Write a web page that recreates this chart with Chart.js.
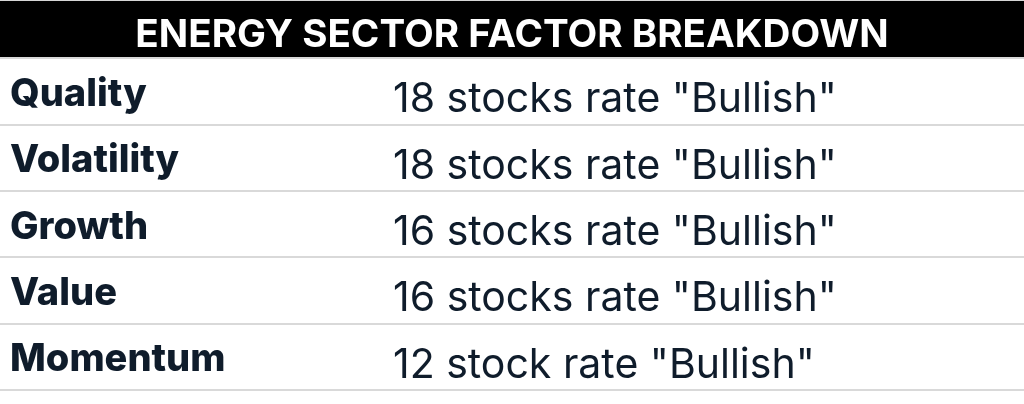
<!DOCTYPE html>
<html>
<head>
<meta charset="utf-8">
<title>Energy Sector Factor Breakdown</title>
<script src="https://cdn.jsdelivr.net/npm/chart.js@4/dist/chart.umd.min.js"></script>
<style>
  html, body { margin: 0; padding: 0; background: #fff; }
  .chart-box { position: relative; width: 1024px; height: 404px; }
</style>
</head>
<body>
<div class="chart-box"><canvas id="factorChart"></canvas></div>
<script>
const title = 'ENERGY SECTOR FACTOR BREAKDOWN';
const factors = ['Quality', 'Volatility', 'Growth', 'Value', 'Momentum'];
const bullishCounts = [18, 18, 16, 16, 12];
const ratingText = [
  'stocks rate "Bullish"',
  'stocks rate "Bullish"',
  'stocks rate "Bullish"',
  'stocks rate "Bullish"',
  'stock rate "Bullish"'
];

const ink = '#0f1c2b';
const fontFamily = 'Inter, "Noto Sans", sans-serif';

// black bar behind the title
const headerBar = {
  id: 'headerBar',
  beforeDraw(chart) {
    const ctx = chart.ctx;
    ctx.save();
    ctx.fillStyle = '#d6d6d6';
    ctx.fillRect(0, 0, chart.width, 1);
    ctx.fillStyle = '#000';
    ctx.fillRect(0, 1, chart.width, chart.chartArea.top - 1.5);
    ctx.restore();
  }
};

// second column: "N stocks rate ..."
const ratingColumn = {
  id: 'ratingColumn',
  afterDatasetsDraw(chart) {
    const ctx = chart.ctx;
    const yScale = chart.scales.y;
    ctx.save();
    ctx.font = '400 41px ' + fontFamily;
    ctx.fillStyle = ink;
    ctx.textAlign = 'left';
    ctx.textBaseline = 'alphabetic';
    bullishCounts.forEach((n, i) => {
      const y = yScale.getPixelForValue(i);
      ctx.fillText(n + ' ' + ratingText[i], 393, y + 21);
    });
    ctx.restore();
  }
};

new Chart(document.getElementById('factorChart'), {
  type: 'bar',
  data: {
    labels: factors,
    datasets: [{
      data: bullishCounts,
      backgroundColor: 'rgba(0,0,0,0)',
      borderWidth: 0
    }]
  },
  options: {
    indexAxis: 'y',
    responsive: true,
    maintainAspectRatio: false,
    animation: false,
    layout: { padding: { left: 0, right: 0, top: 0, bottom: 14 } },
    plugins: {
      legend: { display: false },
      tooltip: { enabled: false },
      title: {
        display: true,
        text: title,
        color: '#fff',
        font: { family: fontFamily, size: 38.6, weight: 'bold' },
        padding: { top: 12, bottom: 0 }
      }
    },
    scales: {
      x: { display: false, min: 0, max: 20 },
      y: {
        afterFit(scale) {
          scale.width = 0;
          scale.paddingTop = 0;
          scale.paddingBottom = 0;
        },
        border: { display: false },
        grid: { offset: true, drawTicks: false, color: '#d9d9d9', lineWidth: 2 },
        ticks: {
          mirror: true,
          padding: 10,
          labelOffset: 3,
          color: ink,
          font: { family: fontFamily, size: 38, weight: 800 }
        }
      }
    }
  },
  plugins: [headerBar, ratingColumn]
});
</script>
</body>
</html>
